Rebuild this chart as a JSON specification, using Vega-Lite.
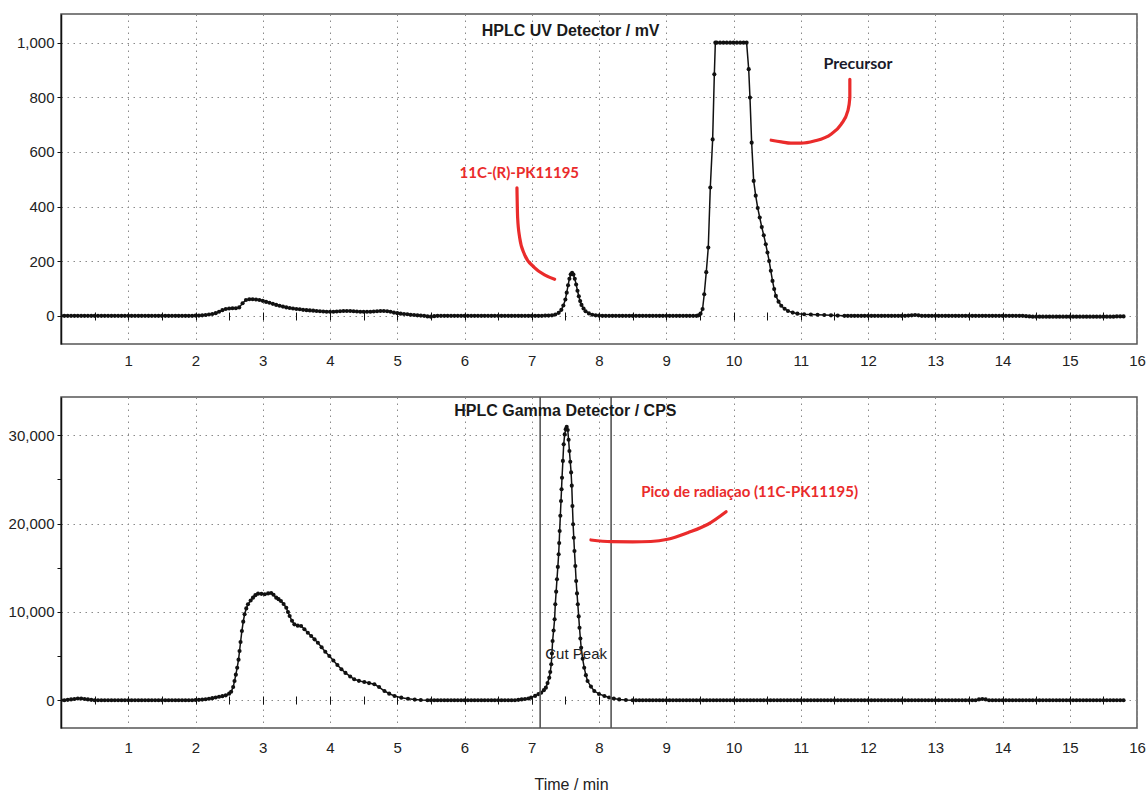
{
"$schema": "https://vega.github.io/schema/vega-lite/v6.json",
"padding": {"left": 7, "top": 13, "right": 8, "bottom": 2},
"background": "white",
"bounds": "flush",
"spacing": 53,
"config": {"view": {"stroke": "#555", "strokeWidth": 1.5}, "font": "Liberation Sans"},
"datasets": {
"uv": [
{"t":0,"v":0},{"t":0.05,"v":0},{"t":0.1,"v":0},{"t":0.15,"v":0},{"t":0.2,"v":0},{"t":0.25,"v":0},{"t":0.3,"v":0},{"t":0.35,"v":0},{"t":0.4,"v":0},{"t":0.45,"v":0},{"t":0.5,"v":0},{"t":0.55,"v":0},{"t":0.6,"v":0},{"t":0.65,"v":0},{"t":0.7,"v":0},{"t":0.75,"v":0},{"t":0.8,"v":0},{"t":0.85,"v":0},{"t":0.9,"v":0},{"t":0.95,"v":0},{"t":1,"v":0},{"t":1.05,"v":0},{"t":1.1,"v":0},{"t":1.15,"v":0},{"t":1.2,"v":0},{"t":1.25,"v":0},{"t":1.3,"v":0},{"t":1.35,"v":0},{"t":1.4,"v":0},{"t":1.45,"v":0},{"t":1.5,"v":0},{"t":1.55,"v":0},{"t":1.6,"v":0},{"t":1.65,"v":0},{"t":1.7,"v":0},{"t":1.75,"v":0},{"t":1.8,"v":0},{"t":1.85,"v":0},{"t":1.9,"v":0},{"t":1.95,"v":0},
{"t":2,"v":1},{"t":2.05,"v":1},{"t":2.1,"v":2},{"t":2.15,"v":3},{"t":2.2,"v":5},{"t":2.25,"v":7},{"t":2.3,"v":10},{"t":2.35,"v":15},{"t":2.4,"v":21},{"t":2.45,"v":25},{"t":2.5,"v":27},{"t":2.55,"v":28},{"t":2.6,"v":28},{"t":2.65,"v":31},{"t":2.7,"v":46},{"t":2.75,"v":58},{"t":2.8,"v":61},{"t":2.85,"v":61},{"t":2.9,"v":60},{"t":2.95,"v":58},{"t":3,"v":55},{"t":3.05,"v":51},{"t":3.1,"v":48},{"t":3.15,"v":44},{"t":3.2,"v":40},{"t":3.25,"v":37},{"t":3.3,"v":34},{"t":3.35,"v":31},{"t":3.4,"v":29},{"t":3.45,"v":27},{"t":3.5,"v":25},{"t":3.55,"v":24},{"t":3.6,"v":22},{"t":3.65,"v":21},{"t":3.7,"v":20},{"t":3.75,"v":19},{"t":3.8,"v":18},{"t":3.85,"v":17},{"t":3.9,"v":16},{"t":3.95,"v":15},{"t":4,"v":15},{"t":4.05,"v":15},{"t":4.1,"v":16},{"t":4.15,"v":17},{"t":4.2,"v":18},{"t":4.25,"v":18},{"t":4.3,"v":18},{"t":4.35,"v":17},{"t":4.4,"v":16},{"t":4.45,"v":15},{"t":4.5,"v":15},{"t":4.55,"v":15},{"t":4.6,"v":15},{"t":4.65,"v":16},{"t":4.7,"v":17},{"t":4.75,"v":18},{"t":4.8,"v":18},{"t":4.85,"v":17},{"t":4.9,"v":15},{"t":4.95,"v":12},{"t":5,"v":10},{"t":5.05,"v":8},{"t":5.1,"v":7},{"t":5.15,"v":6},{"t":5.2,"v":4},{"t":5.25,"v":3},{"t":5.3,"v":2},{"t":5.35,"v":1},{"t":5.4,"v":0},{"t":5.45,"v":-2},{"t":5.5,"v":-3},{"t":5.55,"v":-1},
{"t":5.6,"v":0},{"t":5.65,"v":0},{"t":5.7,"v":0},{"t":5.75,"v":0},{"t":5.8,"v":0},{"t":5.85,"v":0},{"t":5.9,"v":0},{"t":5.95,"v":0},{"t":6,"v":0},{"t":6.05,"v":0},{"t":6.1,"v":0},{"t":6.15,"v":0},{"t":6.2,"v":0},{"t":6.25,"v":0},{"t":6.3,"v":0},{"t":6.35,"v":0},{"t":6.4,"v":0},{"t":6.45,"v":0},{"t":6.5,"v":0},{"t":6.55,"v":0},{"t":6.6,"v":0},{"t":6.65,"v":0},{"t":6.7,"v":0},{"t":6.75,"v":0},{"t":6.8,"v":0},{"t":6.85,"v":0},{"t":6.9,"v":0},{"t":6.95,"v":0},{"t":7,"v":0},{"t":7.05,"v":0},{"t":7.1,"v":0},{"t":7.15,"v":0},{"t":7.2,"v":1},{"t":7.25,"v":1},
{"t":7.3,"v":2},{"t":7.35,"v":5},{"t":7.4,"v":11},{"t":7.44,"v":22},{"t":7.47,"v":38},{"t":7.5,"v":60},{"t":7.52,"v":85},{"t":7.54,"v":112},{"t":7.56,"v":136},{"t":7.58,"v":152},{"t":7.6,"v":158},{"t":7.62,"v":151},{"t":7.64,"v":136},{"t":7.66,"v":115},{"t":7.68,"v":92},{"t":7.7,"v":72},{"t":7.72,"v":54},{"t":7.74,"v":40},{"t":7.77,"v":27},{"t":7.8,"v":17},{"t":7.85,"v":9},{"t":7.9,"v":4},{"t":7.95,"v":2},{"t":8,"v":1},
{"t":8.05,"v":0},{"t":8.1,"v":0},{"t":8.15,"v":0},{"t":8.2,"v":0},{"t":8.25,"v":0},{"t":8.3,"v":0},{"t":8.35,"v":0},{"t":8.4,"v":0},{"t":8.45,"v":0},{"t":8.5,"v":0},{"t":8.55,"v":0},{"t":8.6,"v":0},{"t":8.65,"v":0},{"t":8.7,"v":0},{"t":8.75,"v":0},{"t":8.8,"v":0},{"t":8.85,"v":0},{"t":8.9,"v":0},{"t":8.95,"v":0},{"t":9,"v":0},{"t":9.05,"v":0},{"t":9.1,"v":0},{"t":9.15,"v":0},{"t":9.2,"v":0},{"t":9.25,"v":0},{"t":9.3,"v":0},{"t":9.35,"v":0},{"t":9.4,"v":0},{"t":9.45,"v":0},
{"t":9.48,"v":2},{"t":9.51,"v":8},{"t":9.54,"v":25},{"t":9.565,"v":79},{"t":9.595,"v":160},{"t":9.625,"v":250},{"t":9.655,"v":470},{"t":9.69,"v":646},{"t":9.715,"v":884},{"t":9.73,"v":1000},{"t":9.75,"v":1000},{"t":9.8,"v":1000},{"t":9.85,"v":1000},{"t":9.9,"v":1000},{"t":9.95,"v":1000},{"t":10,"v":1000},{"t":10.05,"v":1000},{"t":10.1,"v":1000},{"t":10.15,"v":1000},{"t":10.195,"v":1000},{"t":10.226,"v":903},{"t":10.245,"v":799},{"t":10.27,"v":634},{"t":10.3,"v":494},{"t":10.33,"v":440},{"t":10.36,"v":395},{"t":10.39,"v":360},{"t":10.42,"v":325},{"t":10.45,"v":295},{"t":10.48,"v":262},{"t":10.505,"v":232},{"t":10.53,"v":201},{"t":10.555,"v":165},{"t":10.58,"v":128},{"t":10.605,"v":98},{"t":10.63,"v":73},{"t":10.67,"v":52},{"t":10.71,"v":37},{"t":10.76,"v":26},{"t":10.81,"v":18},{"t":10.88,"v":12},{"t":10.95,"v":8},{"t":11.05,"v":6},{"t":11.15,"v":5},{"t":11.25,"v":4},{"t":11.35,"v":3},{"t":11.45,"v":2},{"t":11.55,"v":1},
{"t":11.65,"v":0},{"t":11.7,"v":0},{"t":11.75,"v":0},{"t":11.8,"v":0},{"t":11.85,"v":0},{"t":11.9,"v":0},{"t":11.95,"v":0},{"t":12,"v":0},{"t":12.05,"v":0},{"t":12.1,"v":0},{"t":12.15,"v":0},{"t":12.2,"v":0},{"t":12.25,"v":0},{"t":12.3,"v":0},{"t":12.35,"v":0},{"t":12.4,"v":0},{"t":12.45,"v":0},{"t":12.5,"v":0},{"t":12.55,"v":0},{"t":12.6,"v":1},{"t":12.65,"v":2},{"t":12.7,"v":3},{"t":12.75,"v":2},{"t":12.8,"v":0},{"t":12.85,"v":0},{"t":12.9,"v":0},{"t":12.95,"v":0},{"t":13,"v":0},{"t":13.05,"v":0},{"t":13.1,"v":0},{"t":13.15,"v":0},{"t":13.2,"v":0},{"t":13.25,"v":0},{"t":13.3,"v":0},{"t":13.35,"v":0},{"t":13.4,"v":0},{"t":13.45,"v":0},{"t":13.5,"v":0},{"t":13.55,"v":0},{"t":13.6,"v":0},{"t":13.65,"v":0},{"t":13.7,"v":0},{"t":13.75,"v":0},{"t":13.8,"v":0},{"t":13.85,"v":0},{"t":13.9,"v":0},{"t":13.95,"v":0},{"t":14,"v":0},{"t":14.05,"v":0},{"t":14.1,"v":0},{"t":14.15,"v":0},{"t":14.2,"v":0},{"t":14.25,"v":0},{"t":14.3,"v":0},{"t":14.35,"v":-1},{"t":14.4,"v":-2},
{"t":14.45,"v":-3},{"t":14.5,"v":-3},{"t":14.55,"v":-3},{"t":14.6,"v":-3},{"t":14.65,"v":-3},{"t":14.7,"v":-3},{"t":14.75,"v":-3},{"t":14.8,"v":-3},{"t":14.85,"v":-3},{"t":14.9,"v":-3},{"t":14.95,"v":-3},{"t":15,"v":-3},{"t":15.05,"v":-3},{"t":15.1,"v":-3},{"t":15.15,"v":-3},{"t":15.2,"v":-3},{"t":15.25,"v":-3},{"t":15.3,"v":-3},{"t":15.35,"v":-3},{"t":15.4,"v":-3},{"t":15.45,"v":-3},{"t":15.5,"v":-3},{"t":15.55,"v":-3},{"t":15.6,"v":-3},{"t":15.65,"v":-3},{"t":15.7,"v":-2},{"t":15.75,"v":-2},{"t":15.8,"v":-2}
],
"gamma": [
{"t":0,"v":0},{"t":0.05,"v":0},{"t":0.1,"v":50},{"t":0.15,"v":100},{"t":0.2,"v":150},{"t":0.25,"v":200},{"t":0.3,"v":200},{"t":0.35,"v":150},{"t":0.4,"v":100},{"t":0.45,"v":50},{"t":0.5,"v":0},{"t":0.55,"v":0},{"t":0.6,"v":0},{"t":0.65,"v":0},{"t":0.7,"v":0},{"t":0.75,"v":0},{"t":0.8,"v":0},{"t":0.85,"v":0},{"t":0.9,"v":0},{"t":0.95,"v":0},{"t":1,"v":0},{"t":1.05,"v":0},{"t":1.1,"v":0},{"t":1.15,"v":0},{"t":1.2,"v":0},{"t":1.25,"v":0},{"t":1.3,"v":0},{"t":1.35,"v":0},{"t":1.4,"v":0},{"t":1.45,"v":0},{"t":1.5,"v":0},{"t":1.55,"v":0},{"t":1.6,"v":0},{"t":1.65,"v":0},{"t":1.7,"v":0},{"t":1.75,"v":0},{"t":1.8,"v":0},{"t":1.85,"v":0},{"t":1.9,"v":0},{"t":1.95,"v":0},
{"t":2,"v":30},{"t":2.05,"v":50},{"t":2.1,"v":80},{"t":2.15,"v":120},{"t":2.2,"v":170},{"t":2.25,"v":240},{"t":2.3,"v":320},{"t":2.35,"v":400},{"t":2.4,"v":470},{"t":2.45,"v":560},{"t":2.5,"v":750},{"t":2.53,"v":970},{"t":2.56,"v":1500},{"t":2.58,"v":2180},{"t":2.6,"v":2900},{"t":2.62,"v":3690},{"t":2.64,"v":4600},{"t":2.655,"v":5580},{"t":2.67,"v":6600},{"t":2.69,"v":7850},{"t":2.71,"v":8900},{"t":2.73,"v":9740},{"t":2.755,"v":10400},{"t":2.78,"v":10870},{"t":2.82,"v":11300},{"t":2.855,"v":11620},{"t":2.89,"v":11900},{"t":2.93,"v":12070},{"t":2.98,"v":12050},{"t":3.03,"v":12000},{"t":3.08,"v":12100},{"t":3.125,"v":12150},{"t":3.16,"v":11950},{"t":3.2,"v":11620},{"t":3.235,"v":11450},{"t":3.27,"v":11240},{"t":3.31,"v":10900},{"t":3.35,"v":10480},{"t":3.375,"v":10000},{"t":3.4,"v":9540},{"t":3.435,"v":9000},{"t":3.47,"v":8600},{"t":3.52,"v":8450},{"t":3.57,"v":8410},{"t":3.62,"v":8050},{"t":3.67,"v":7650},{"t":3.72,"v":7280},{"t":3.77,"v":6900},{"t":3.82,"v":6520},{"t":3.875,"v":6000},{"t":3.93,"v":5500},{"t":3.99,"v":5010},{"t":4.05,"v":4500},{"t":4.11,"v":4000},{"t":4.17,"v":3510},{"t":4.23,"v":3100},{"t":4.3,"v":2700},{"t":4.36,"v":2380},{"t":4.43,"v":2200},{"t":4.51,"v":2070},{"t":4.58,"v":1950},{"t":4.66,"v":1810},{"t":4.73,"v":1500},{"t":4.81,"v":1050},{"t":4.88,"v":750},{"t":4.96,"v":490},{"t":5.06,"v":300},{"t":5.16,"v":180},{"t":5.26,"v":80},{"t":5.35,"v":30},{"t":5.45,"v":0},
{"t":5.5,"v":0},{"t":5.55,"v":0},{"t":5.6,"v":0},{"t":5.65,"v":0},{"t":5.7,"v":0},{"t":5.75,"v":0},{"t":5.8,"v":0},{"t":5.85,"v":0},{"t":5.9,"v":0},{"t":5.95,"v":0},{"t":6,"v":0},{"t":6.05,"v":0},{"t":6.1,"v":0},{"t":6.15,"v":0},{"t":6.2,"v":0},{"t":6.25,"v":0},{"t":6.3,"v":0},{"t":6.35,"v":0},{"t":6.4,"v":0},{"t":6.45,"v":0},{"t":6.5,"v":0},{"t":6.55,"v":0},{"t":6.6,"v":0},{"t":6.65,"v":0},{"t":6.7,"v":0},{"t":6.75,"v":0},{"t":6.8,"v":50},{"t":6.85,"v":100},{"t":6.9,"v":150},
{"t":6.95,"v":200},{"t":6.99,"v":300},{"t":7.05,"v":500},{"t":7.1,"v":700},{"t":7.14,"v":860},{"t":7.18,"v":1150},{"t":7.21,"v":1430},{"t":7.235,"v":1950},{"t":7.26,"v":2560},{"t":7.275,"v":3200},{"t":7.29,"v":4080},{"t":7.3,"v":5300},{"t":7.31,"v":6710},{"t":7.325,"v":7900},{"t":7.34,"v":9170},{"t":7.35,"v":10870},{"t":7.363,"v":12300},{"t":7.375,"v":13700},{"t":7.388,"v":15100},{"t":7.4,"v":16530},{"t":7.408,"v":17800},{"t":7.415,"v":19170},{"t":7.425,"v":20900},{"t":7.435,"v":22560},{"t":7.443,"v":23900},{"t":7.45,"v":25200},{"t":7.463,"v":27100},{"t":7.475,"v":28980},{"t":7.49,"v":30100},{"t":7.505,"v":30700},{"t":7.52,"v":30950},{"t":7.535,"v":30600},{"t":7.548,"v":29500},{"t":7.56,"v":28220},{"t":7.573,"v":27000},{"t":7.585,"v":25800},{"t":7.595,"v":24300},{"t":7.605,"v":22000},{"t":7.615,"v":19930},{"t":7.625,"v":18400},{"t":7.635,"v":16900},{"t":7.648,"v":15200},{"t":7.66,"v":13500},{"t":7.673,"v":12100},{"t":7.685,"v":10870},{"t":7.698,"v":9500},{"t":7.71,"v":8220},{"t":7.723,"v":7000},{"t":7.735,"v":5950},{"t":7.757,"v":4700},{"t":7.78,"v":3690},{"t":7.805,"v":2850},{"t":7.83,"v":2180},{"t":7.88,"v":1550},{"t":7.93,"v":1050},{"t":8,"v":720},{"t":8.08,"v":490},{"t":8.15,"v":320},{"t":8.22,"v":200},{"t":8.3,"v":100},{"t":8.4,"v":40},
{"t":8.5,"v":0},{"t":8.55,"v":0},{"t":8.6,"v":0},{"t":8.65,"v":0},{"t":8.7,"v":0},{"t":8.75,"v":0},{"t":8.8,"v":0},{"t":8.85,"v":0},{"t":8.9,"v":0},{"t":8.95,"v":0},{"t":9,"v":0},{"t":9.05,"v":0},{"t":9.1,"v":0},{"t":9.15,"v":0},{"t":9.2,"v":0},{"t":9.25,"v":0},{"t":9.3,"v":0},{"t":9.35,"v":0},{"t":9.4,"v":0},{"t":9.45,"v":0},{"t":9.5,"v":0},{"t":9.55,"v":0},{"t":9.6,"v":0},{"t":9.65,"v":0},{"t":9.7,"v":0},{"t":9.75,"v":0},{"t":9.8,"v":0},{"t":9.85,"v":0},{"t":9.9,"v":0},{"t":9.95,"v":0},{"t":10,"v":0},{"t":10.05,"v":0},{"t":10.1,"v":0},{"t":10.15,"v":0},{"t":10.2,"v":0},{"t":10.25,"v":0},{"t":10.3,"v":0},{"t":10.35,"v":0},{"t":10.4,"v":0},{"t":10.45,"v":0},{"t":10.5,"v":0},{"t":10.55,"v":0},{"t":10.6,"v":0},{"t":10.65,"v":0},{"t":10.7,"v":0},{"t":10.75,"v":0},{"t":10.8,"v":0},{"t":10.85,"v":0},{"t":10.9,"v":0},{"t":10.95,"v":0},{"t":11,"v":0},{"t":11.05,"v":0},{"t":11.1,"v":0},{"t":11.15,"v":0},{"t":11.2,"v":0},{"t":11.25,"v":0},{"t":11.3,"v":0},{"t":11.35,"v":0},{"t":11.4,"v":0},{"t":11.45,"v":0},{"t":11.5,"v":0},{"t":11.55,"v":0},{"t":11.6,"v":0},{"t":11.65,"v":0},{"t":11.7,"v":0},{"t":11.75,"v":0},{"t":11.8,"v":0},{"t":11.85,"v":0},{"t":11.9,"v":0},{"t":11.95,"v":0},{"t":12,"v":0},{"t":12.05,"v":0},{"t":12.1,"v":0},{"t":12.15,"v":0},{"t":12.2,"v":0},{"t":12.25,"v":0},{"t":12.3,"v":0},{"t":12.35,"v":0},{"t":12.4,"v":0},{"t":12.45,"v":0},{"t":12.5,"v":0},{"t":12.55,"v":0},{"t":12.6,"v":0},{"t":12.65,"v":0},{"t":12.7,"v":0},{"t":12.75,"v":0},{"t":12.8,"v":0},{"t":12.85,"v":0},{"t":12.9,"v":0},{"t":12.95,"v":0},{"t":13,"v":0},{"t":13.05,"v":0},{"t":13.1,"v":0},{"t":13.15,"v":0},{"t":13.2,"v":0},{"t":13.25,"v":0},{"t":13.3,"v":0},{"t":13.35,"v":0},{"t":13.4,"v":0},{"t":13.45,"v":0},{"t":13.5,"v":0},{"t":13.55,"v":0},{"t":13.6,"v":0},{"t":13.65,"v":100},{"t":13.7,"v":150},{"t":13.75,"v":100},{"t":13.8,"v":0},{"t":13.85,"v":0},{"t":13.9,"v":0},{"t":13.95,"v":0},{"t":14,"v":0},{"t":14.05,"v":0},{"t":14.1,"v":0},{"t":14.15,"v":0},{"t":14.2,"v":0},{"t":14.25,"v":0},{"t":14.3,"v":0},{"t":14.35,"v":0},{"t":14.4,"v":0},{"t":14.45,"v":0},{"t":14.5,"v":0},{"t":14.55,"v":0},{"t":14.6,"v":0},{"t":14.65,"v":0},{"t":14.7,"v":0},{"t":14.75,"v":0},{"t":14.8,"v":0},{"t":14.85,"v":0},{"t":14.9,"v":0},{"t":14.95,"v":0},{"t":15,"v":0},{"t":15.05,"v":0},{"t":15.1,"v":0},{"t":15.15,"v":0},{"t":15.2,"v":0},{"t":15.25,"v":0},{"t":15.3,"v":0},{"t":15.35,"v":0},{"t":15.4,"v":0},{"t":15.45,"v":0},{"t":15.5,"v":0},{"t":15.55,"v":0},{"t":15.6,"v":0},{"t":15.65,"v":0},{"t":15.7,"v":0},{"t":15.75,"v":0},{"t":15.8,"v":0}
]
},
"vconcat": [
{
"width": 1076, "height": 330,
"resolve": {"axis": {"x": "independent"}},
"layer": [
{"data": {"name": "uv"},
 "mark": {"type": "line", "color": "#111", "strokeWidth": 1.5, "clip": true, "point": {"filled": true, "size": 17, "color": "#111"}},
 "encoding": {
  "x": {"field": "t", "type": "quantitative", "scale": {"domain": [0, 16], "nice": false, "zero": false},
        "axis": {"values": [1,2,3,4,5,6,7,8,9,10,11,12,13,14,15,16], "grid": true, "gridDash": [1.5, 4.5], "gridColor": "#8a8a8a", "ticks": false, "tickSize": 0, "domain": false, "labelFontSize": 15, "labelColor": "#222", "labelPadding": 9, "labelFlush": false, "title": null}},
  "y": {"field": "v", "type": "quantitative", "scale": {"domain": [-103, 1105], "nice": false, "zero": false},
        "axis": {"values": [0,100,200,300,400,500,600,700,800,900,1000], "format": ",d", "labelExpr": "datum.value % 200 == 0 ? datum.label : ''", "grid": true, "gridDash": [1.5, 4.5], "gridColor": "#8a8a8a", "gridOpacity": {"condition": {"test": "datum.value % 200 != 0", "value": 0}, "value": 1}, "tickSize": 4, "tickColor": "#111", "domainColor": "#111", "domainWidth": 1.5, "labelFontSize": 15, "labelColor": "#222", "labelPadding": 3, "title": null}}
 }},
{"mark": {"type": "rule", "color": "#111", "strokeWidth": 1},
 "encoding": {
  "x": {"datum": 0, "type": "quantitative", "axis": {"orient": "top", "offset": -306, "values": [0.5,1,1.5,2,2.5,3,3.5,4,4.5,5,5.5,6,6.5,7,7.5,8,8.5,9,9.5,10,10.5,11,11.5,12,12.5,13,13.5,14,14.5,15,15.5], "labels": false, "grid": false, "domain": false, "ticks": true, "tickSize": 8, "tickColor": "#111", "title": null}},
  "x2": {"datum": 16},
  "y": {"datum": 0, "type": "quantitative"}
 }},
{"data": {"values": [
  {"id": "a", "i": 1, "t": 11.73, "v": 866}, {"id": "a", "i": 2, "t": 11.73, "v": 799}, {"id": "a", "i": 3, "t": 11.7, "v": 750}, {"id": "a", "i": 4, "t": 11.6, "v": 701}, {"id": "a", "i": 5, "t": 11.45, "v": 665}, {"id": "a", "i": 6, "t": 11.2, "v": 640}, {"id": "a", "i": 7, "t": 11.0, "v": 632}, {"id": "a", "i": 8, "t": 10.855, "v": 632}, {"id": "a", "i": 9, "t": 10.71, "v": 637}, {"id": "a", "i": 10, "t": 10.56, "v": 643},
  {"id": "b", "i": 1, "t": 6.78, "v": 469}, {"id": "b", "i": 2, "t": 6.79, "v": 360}, {"id": "b", "i": 3, "t": 6.82, "v": 287}, {"id": "b", "i": 4, "t": 6.89, "v": 226}, {"id": "b", "i": 5, "t": 7.04, "v": 177}, {"id": "b", "i": 6, "t": 7.19, "v": 150}, {"id": "b", "i": 7, "t": 7.34, "v": 134}
 ]},
 "mark": {"type": "line", "color": "#ea2b2b", "strokeWidth": 3.2, "interpolate": "monotone", "strokeCap": "round"},
 "encoding": {
  "x": {"field": "t", "type": "quantitative", "axis": null},
  "y": {"field": "v", "type": "quantitative"},
  "detail": {"field": "id"},
  "order": {"field": "i", "type": "quantitative"}
 }},
{"data": {"values": [{"t": 7.578, "v": 1043, "label": "HPLC UV Detector / mV"}]},
 "mark": {"type": "text", "font": "Liberation Sans", "fontWeight": "bold", "fontSize": 16, "color": "#1a1a1a", "align": "center", "baseline": "middle"},
 "encoding": {"x": {"field": "t", "type": "quantitative", "axis": null}, "y": {"field": "v", "type": "quantitative"}, "text": {"field": "label"}}},
{"data": {"values": [{"t": 11.85, "v": 921, "label": "Precursor"}]},
 "mark": {"type": "text", "font": "Lato", "fontWeight": "bold", "fontSize": 16, "color": "#1a1a2a", "align": "center", "baseline": "middle"},
 "encoding": {"x": {"field": "t", "type": "quantitative", "axis": null}, "y": {"field": "v", "type": "quantitative"}, "text": {"field": "label"}}},
{"data": {"values": [{"t": 6.815, "v": 524, "label": "11C-(R)-PK11195"}]},
 "mark": {"type": "text", "font": "Lato", "fontWeight": "bold", "fontSize": 15, "color": "#ea2b2b", "align": "center", "baseline": "middle"},
 "encoding": {"x": {"field": "t", "type": "quantitative", "axis": null}, "y": {"field": "v", "type": "quantitative"}, "text": {"field": "label"}}}
]
},
{
"width": 1076, "height": 331,
"resolve": {"axis": {"x": "independent"}},
"layer": [
{"data": {"name": "gamma"},
 "mark": {"type": "line", "color": "#111", "strokeWidth": 1.5, "clip": true, "point": {"filled": true, "size": 17, "color": "#111"}},
 "encoding": {
  "x": {"field": "t", "type": "quantitative", "scale": {"domain": [0, 16], "nice": false, "zero": false},
        "axis": {"values": [1,2,3,4,5,6,7,8,9,10,11,12,13,14,15,16], "grid": true, "gridDash": [1.5, 4.5], "gridColor": "#8a8a8a", "ticks": false, "tickSize": 0, "domain": false, "labelFontSize": 15, "labelColor": "#222", "labelPadding": 12, "labelFlush": false, "title": "Time / min", "titleFontSize": 16, "titleFontWeight": "normal", "titleColor": "#222", "titleX": 510, "titleY": 56, "titleBaseline": "middle", "titleAlign": "center"}},
  "y": {"field": "v", "type": "quantitative", "scale": {"domain": [-3136, 34337], "nice": false, "zero": false},
        "axis": {"values": [0,5000,10000,15000,20000,25000,30000], "format": ",d", "labelExpr": "datum.value % 10000 == 0 ? datum.label : ''", "grid": true, "gridDash": [1.5, 4.5], "gridColor": "#8a8a8a", "gridOpacity": {"condition": {"test": "datum.value % 10000 != 0", "value": 0}, "value": 1}, "tickSize": 4, "tickColor": "#111", "domainColor": "#111", "domainWidth": 1.5, "labelFontSize": 15, "labelColor": "#222", "labelPadding": 3, "title": null}}
 }},
{"mark": {"type": "rule", "color": "#111", "strokeWidth": 1},
 "encoding": {
  "x": {"datum": 0, "type": "quantitative", "axis": {"orient": "top", "offset": -307, "values": [0.5,1,1.5,2,2.5,3,3.5,4,4.5,5,5.5,6,6.5,7,7.5,8,8.5,9,9.5,10,10.5,11,11.5,12,12.5,13,13.5,14,14.5,15,15.5], "labels": false, "grid": false, "domain": false, "ticks": true, "tickSize": 8, "tickColor": "#111", "title": null}},
  "x2": {"datum": 16},
  "y": {"datum": 0, "type": "quantitative"}
 }},
{"data": {"values": [{"t": 7.125}, {"t": 8.18}]},
 "mark": {"type": "rule", "color": "#555", "strokeWidth": 1.6},
 "encoding": {"x": {"field": "t", "type": "quantitative", "axis": null}}},
{"data": {"values": [
  {"i": 1, "t": 7.88, "v": 18150}, {"i": 2, "t": 8.18, "v": 17960}, {"i": 3, "t": 8.5, "v": 17940}, {"i": 4, "t": 8.77, "v": 17980}, {"i": 5, "t": 9.02, "v": 18230}, {"i": 6, "t": 9.32, "v": 18980}, {"i": 7, "t": 9.62, "v": 19930}, {"i": 8, "t": 9.89, "v": 21350}
 ]},
 "mark": {"type": "line", "color": "#ea2b2b", "strokeWidth": 3.2, "interpolate": "monotone", "strokeCap": "round"},
 "encoding": {
  "x": {"field": "t", "type": "quantitative", "axis": null},
  "y": {"field": "v", "type": "quantitative"},
  "order": {"field": "i", "type": "quantitative"}
 }},
{"data": {"values": [{"t": 7.5, "v": 32750, "label": "HPLC Gamma Detector / CPS"}]},
 "mark": {"type": "text", "font": "Liberation Sans", "fontWeight": "bold", "fontSize": 16, "color": "#1a1a1a", "align": "center", "baseline": "middle"},
 "encoding": {"x": {"field": "t", "type": "quantitative", "axis": null}, "y": {"field": "v", "type": "quantitative"}, "text": {"field": "label"}}},
{"data": {"values": [{"t": 7.66, "v": 5210, "label": "Cut Peak"}]},
 "mark": {"type": "text", "font": "Liberation Sans", "fontSize": 15, "color": "#222", "align": "center", "baseline": "middle"},
 "encoding": {"x": {"field": "t", "type": "quantitative", "axis": null}, "y": {"field": "v", "type": "quantitative"}, "text": {"field": "label"}}},
{"data": {"values": [{"t": 10.24, "v": 23580, "label": "Pico de radiaçao (11C-PK11195)"}]},
 "mark": {"type": "text", "font": "Lato", "fontWeight": "bold", "fontSize": 15, "color": "#ea2b2b", "align": "center", "baseline": "middle"},
 "encoding": {"x": {"field": "t", "type": "quantitative", "axis": null}, "y": {"field": "v", "type": "quantitative"}, "text": {"field": "label"}}}
]
}
]
}
